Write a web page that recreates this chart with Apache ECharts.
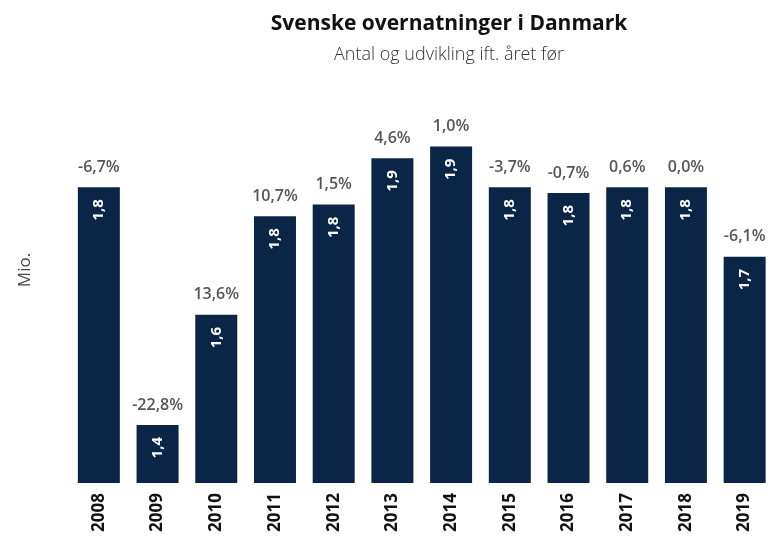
<!DOCTYPE html>
<html>
<head>
<meta charset="utf-8">
<script src="https://cdn.jsdelivr.net/npm/echarts@6/dist/echarts.min.js"></script>
<style>
html,body{margin:0;padding:0;background:#fff;}
#chart{width:774px;height:538px;}
</style>
</head>
<body>
<div id="chart"></div>
<script>
// Data
var years = ['2008','2009','2010','2011','2012','2013','2014','2015','2016','2017','2018','2019'];
var overnightsMio = [1.81, 1.40, 1.59, 1.76, 1.78, 1.86, 1.88, 1.81, 1.80, 1.81, 1.81, 1.69];
var growthPct = [-6.7, -22.8, 13.6, 10.7, 1.5, 4.6, 1.0, -3.7, -0.7, 0.6, 0.0, -6.1];

var FONT = '"Open Sans", "Noto Sans", sans-serif';
function fmt(v, d){ return v.toFixed(d).replace('.', ','); }

var chart = echarts.init(document.getElementById('chart'), null, {renderer:'canvas'});
chart.setOption({
  animation: false,
  backgroundColor: '#ffffff',
  title: {
    text: 'Svenske overnatninger i Danmark',
    subtext: 'Antal og udvikling ift. året før',
    left: 444, textAlign: 'center', top: 7, itemGap: 9,
    textStyle: {fontFamily: FONT, fontSize: 21, fontWeight: 'bold', color: '#111', lineHeight: 24},
    subtextStyle: {fontFamily: FONT, fontSize: 18, fontWeight: 300, color: '#333', lineHeight: 20}
  },
  graphic: [{
    type: 'text', x: 25, y: 270, rotation: Math.PI/2,
    style: {text: 'Mio.', fontFamily: FONT, fontSize: 17, fill: '#444', align: 'center', verticalAlign: 'middle'}
  }],
  grid: {left: 69.5, width: 708, top: 135, height: 348},
  xAxis: {
    type: 'category', data: years,
    axisLine: {show: false}, axisTick: {show: false},
    axisLabel: {rotate: 90, margin: 10, fontFamily: FONT, fontSize: 17, fontWeight: 'bold', color: '#111'}
  },
  yAxis: {
    type: 'value', min: 1.3, max: 1.9, show: false,
    splitLine: {show: false}
  },
  series: [{
    type: 'bar', data: overnightsMio, barWidth: 42,
    itemStyle: {color: '#0a2545'},
    label: {
      show: true, position: 'insideTop', distance: 12, rotate: 90,
      align: 'right', verticalAlign: 'middle',
      fontFamily: FONT, fontSize: 15, fontWeight: 'bold', color: '#fff',
      formatter: function(p){ return fmt(p.value, 1); }
    },
    z: 3
  }, {
    type: 'bar', data: overnightsMio, barWidth: 42, barGap: '-100%',
    itemStyle: {color: 'rgba(0,0,0,0)'},
    label: {
      show: true, position: 'top', distance: 12,
      fontFamily: FONT, fontSize: 16, fontWeight: 600, color: '#555',
      formatter: function(p){ return fmt(growthPct[p.dataIndex], 1) + '%'; }
    },
    z: 2, silent: true
  }]
});
</script>
</body>
</html>
